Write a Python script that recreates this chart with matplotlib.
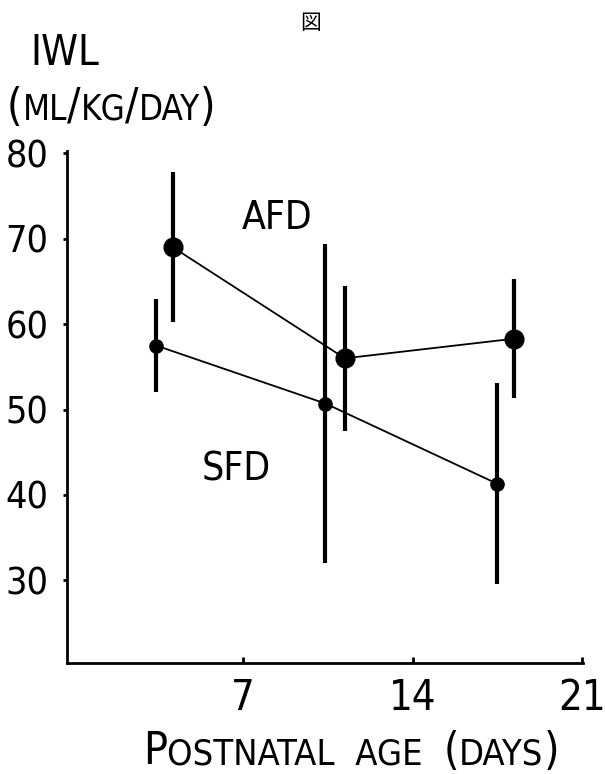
import matplotlib
matplotlib.use("Agg")
import matplotlib.pyplot as plt
from matplotlib.offsetbox import TextArea, HPacker, AnnotationBbox

# data
days_afd = [4.1, 11.2, 18.2]
iwl_afd = [69.0, 56.0, 58.3]
err_afd = [8.8, 8.5, 7.0]

days_sfd = [3.4, 10.4, 17.5]
iwl_sfd = [57.5, 50.7, 41.3]
err_sfd = [5.4, 18.7, 11.8]

xticks = [7, 14, 21]
yticks = [30, 40, 50, 60, 70, 80]

FONT = dict(family='DejaVu Sans', stretch='condensed', weight='light')

fig = plt.figure(figsize=(6.05, 7.74), dpi=100)
ax = fig.add_axes([0.110, 0.1434, 0.854, 0.6616])

# connecting lines
ax.plot(days_afd, iwl_afd, color='black', lw=1.3, zorder=2)
ax.plot(days_sfd, iwl_sfd, color='black', lw=1.3, zorder=2)

# error bars and points
ax.errorbar(days_afd, iwl_afd, yerr=err_afd, fmt='o', color='black',
            ms=13.5, elinewidth=3.0, capsize=0, zorder=3)
ax.errorbar(days_sfd, iwl_sfd, yerr=err_sfd, fmt='o', color='black',
            ms=9.5, elinewidth=3.0, capsize=0, zorder=3)

ax.text(8.4, 72.4, 'AFD', fontsize=28, ha='center', va='center', **FONT)
ax.text(6.7, 43.0, 'SFD', fontsize=28, ha='center', va='center', **FONT)

ax.set_xlim(-0.3, 21.05)
ax.set_ylim(20.3, 80.3)
ax.set_xticks(xticks)
ax.set_yticks(yticks)
ax.set_xticklabels([str(t) for t in xticks], fontsize=30, **FONT)
ax.set_yticklabels([str(t) for t in yticks], fontsize=27, **FONT)
ax.tick_params(axis='x', direction='in', length=4, width=2, pad=10)
ax.tick_params(axis='y', direction='out', length=3, width=2, pad=10)

for side in ['top', 'right']:
    ax.spines[side].set_visible(False)
for side in ['left', 'bottom']:
    ax.spines[side].set_linewidth(2.0)

# titles / labels
fig.text(311 / 605, 1 - 23 / 774, '図', fontsize=15,
         family=['Noto Sans CJK JP', 'DejaVu Sans'], ha='center', va='center')
fig.text(30 / 605, 1 - 53 / 774, 'IWL', fontsize=30, ha='left', va='center', **FONT)


def small_caps(parts, x, y):
    boxes = [TextArea(s, textprops=dict(fontsize=fs, **FONT)) for s, fs in parts]
    pack = HPacker(children=boxes, align='baseline', pad=0, sep=0)
    ab = AnnotationBbox(pack, (x, y), xycoords='figure fraction',
                        box_alignment=(0, 0.5), frameon=False)
    fig.add_artist(ab)


small_caps([('(', 32), ('ML', 25), ('/', 32), ('KG', 25), ('/', 32),
            ('DAY', 25), (')', 32)], 7 / 605, 1 - 107 / 774)
small_caps([('P', 32), ('OSTNATAL  AGE  ', 26), ('(', 32), ('DAYS', 26), (')', 32)],
           143 / 605, 1 - 752 / 774)

fig.savefig('out.png', dpi=100)
